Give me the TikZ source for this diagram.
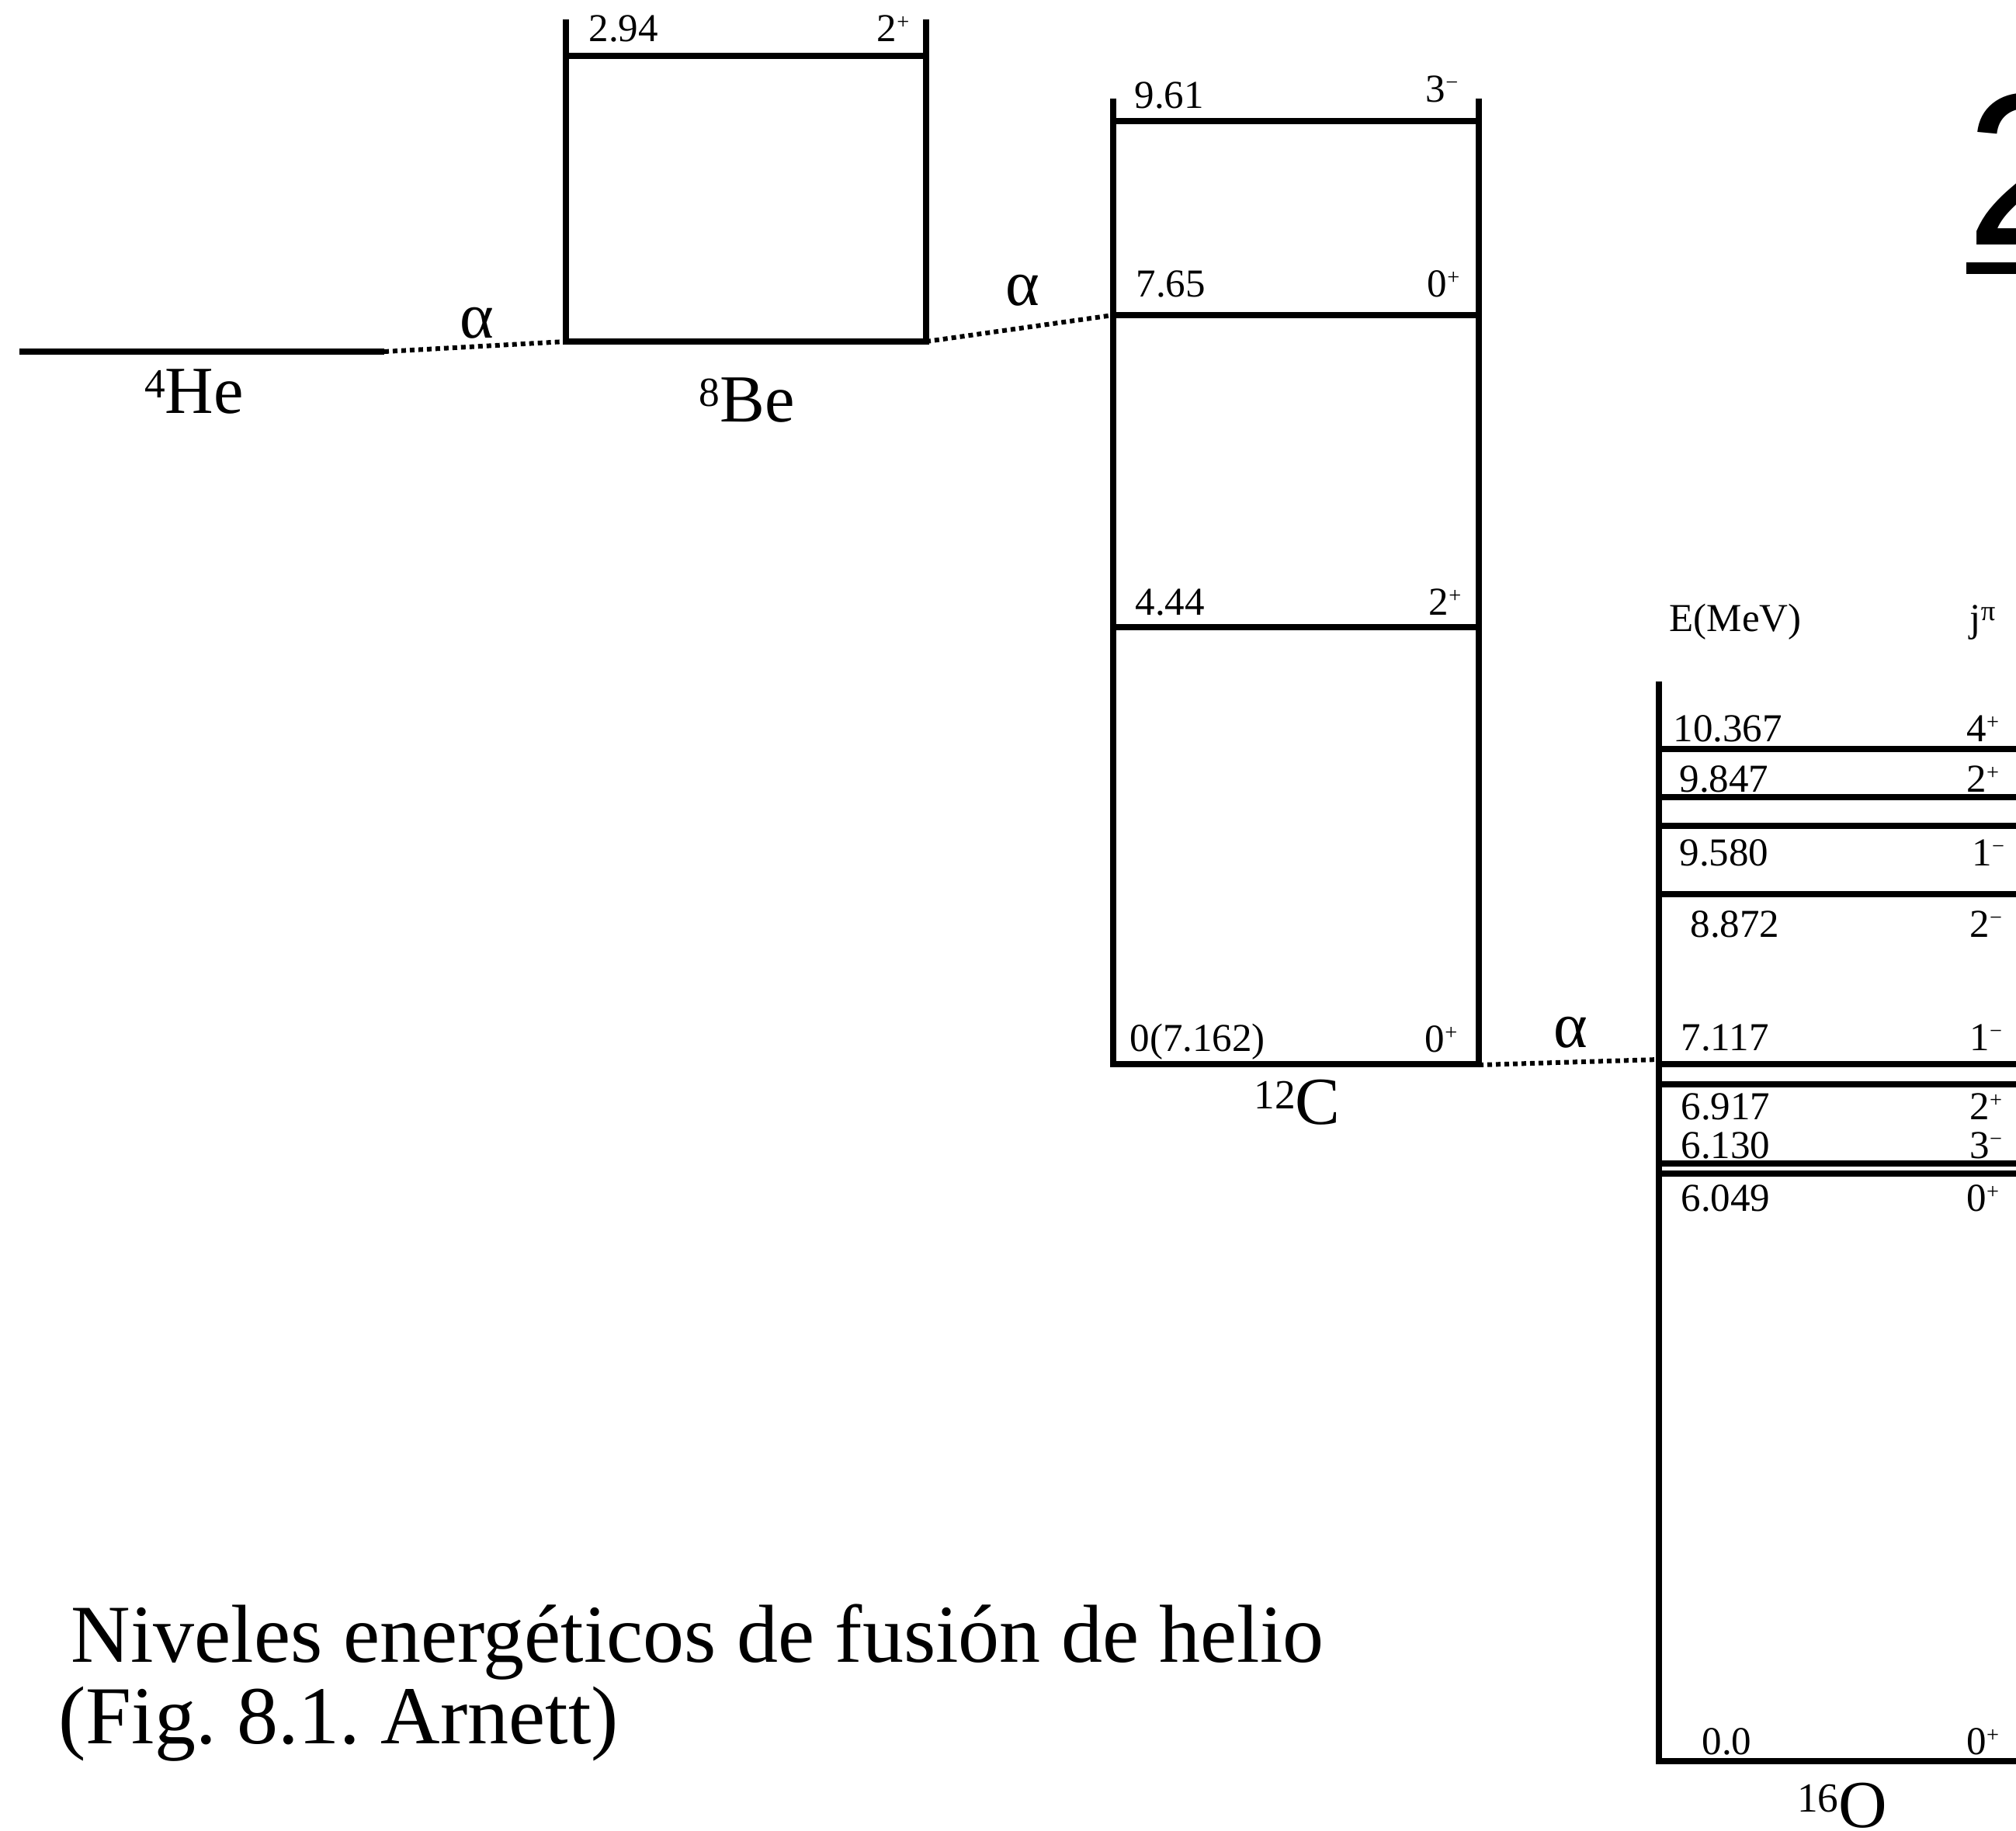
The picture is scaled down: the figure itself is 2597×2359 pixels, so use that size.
\documentclass[tikz,border=0pt]{standalone}
\usepackage{fontspec}
\setmainfont{Liberation Serif}
\newfontfamily\arialf{Liberation Sans}
\newcommand\isup[1]{\raisebox{6bp}{\fontsize{16bp}{16bp}\selectfont #1}}
\newcommand\lsup[1]{\raisebox{4.8bp}{\fontsize{8.5bp}{9bp}\selectfont #1}}
\frenchspacing
\begin{document}
\begin{tikzpicture}[x=0.3bp,y=-0.3bp,
  lvl/.style={line width=2.3bp},
  conn/.style={line width=1.8bp, dash pattern=on 1.8bp off 1.5bp},
  lab/.style={inner sep=0pt, font=\fontsize{15.3bp}{16bp}\selectfont},
  labl/.style={lab, anchor=base west},
  labr/.style={lab, anchor=base east},
  iso/.style={inner sep=0pt, anchor=base, font=\fontsize{26bp}{28bp}\selectfont},
  alph/.style={inner sep=0pt, font=\fontsize{25bp}{28bp}\selectfont},
  ttl/.style={inner sep=0pt, anchor=base west, font=\fontsize{31.8bp}{34bp}\selectfont}]
\useasboundingbox (0,0) rectangle (2597,2359);

% 4He
\draw[lvl] (25,453) -- (495,453);
\coordinate (he) at (495,453);
\node[iso] (heLab) at (250,532) {\isup{4}He};

% 8Be
\draw[lvl] (729,25) -- (729,440) -- (1193,440) -- (1193,25);
\draw[lvl] (729,72) -- (1193,72);
\coordinate (beL) at (729,440);
\coordinate (beR) at (1193,440);
\node[labl] (be1) at (758,54) {2.94};
\node[labr] (be1j) at (1172,54) {2\lsup{+}};
\node[iso] (beLab) at (962,543) {\isup{8}Be};

% 12C
\draw[lvl] (1434,127) -- (1434,1371) -- (1905,1371) -- (1905,127);
\draw[lvl] (1434,156) -- (1905,156);
\draw[lvl] (1434,406) -- (1905,406);
\draw[lvl] (1434,808) -- (1905,808);
\coordinate (cL) at (1434,406);
\coordinate (cR) at (1905,1372);
\node[labl] (c1) at (1461,140) {9.61};
\node[labr] (c1j) at (1879,132) {3\lsup{−}};
\node[labl] (c2) at (1463,383) {7.65};
\node[labr] (c2j) at (1881,383) {0\lsup{+}};
\node[labl] (c3) at (1462,792) {4.44};
\node[labr] (c3j) at (1883,792) {2\lsup{+}};
\node[labl] (c4) at (1455,1354) {0(7.162)};
\node[labr] (c4j) at (1878,1355) {0\lsup{+}};
\node[iso] (cLab) at (1671,1448) {\isup{12}C};

% 16O
\draw[lvl] (2137,878) -- (2137,2269) -- (2597,2269);
\foreach \yy in {965,1027,1064,1152,1371,1397,1499,1512}
  \draw[lvl] (2137,\yy) -- (2597,\yy);
\coordinate (oL) at (2137,1365);
\node[labl] (oh1) at (2150,813) {E(MeV)};
\node[labl] (oh2) at (2537,813) {j\raisebox{4bp}{\fontsize{11bp}{12bp}\selectfont π}};
\node[labl] (o1) at (2155,955) {10.367};
\node[labl] (o1j) at (2533,955) {4\lsup{+}};
\node[labl] (o2) at (2163,1020) {9.847};
\node[labl] (o2j) at (2533,1020) {2\lsup{+}};
\node[labl] (o3) at (2163,1115) {9.580};
\node[labl] (o3j) at (2540,1115) {1\lsup{−}};
\node[labl] (o4) at (2177,1207) {8.872};
\node[labl] (o4j) at (2537,1207) {2\lsup{−}};
\node[labl] (o5) at (2165,1353) {7.117};
\node[labl] (o5j) at (2537,1353) {1\lsup{−}};
\node[labl] (o6) at (2165,1442) {6.917};
\node[labl] (o6j) at (2537,1442) {2\lsup{+}};
\node[labl] (o7) at (2165,1492) {6.130};
\node[labl] (o7j) at (2537,1492) {3\lsup{−}};
\node[labl] (o8) at (2165,1560) {6.049};
\node[labl] (o8j) at (2533,1560) {0\lsup{+}};
\node[labl] (o9) at (2192,2260) {0.0};
\node[labl] (o9j) at (2533,2260) {0\lsup{+}};
\node[iso] (oLab) at (2373,2354) {\isup{16}O};

% alpha connectors
\draw[conn] (he) -- (beL);
\draw[conn] (beR) -- (cL);
\draw[conn] (cR) -- (oL);
\node[alph] (a1) at (614,416) {α};
\node[alph] (a2) at (1317,374) {α};
\node[alph] (a3) at (2023,1330) {α};

% big partial glyph top right
\node[inner sep=0pt, anchor=base west, font=\arialf\fontsize{84bp}{90bp}\selectfont] (two) at (2532,315) {2};
\fill (2533,338) rectangle (2597,353);

% title
\node[ttl] (t1) at (91,2141) {Niveles energéticos de fusión de helio};
\node[ttl] (t2) at (75,2246) {(Fig. 8.1. Arnett)};
\end{tikzpicture}
\end{document}
